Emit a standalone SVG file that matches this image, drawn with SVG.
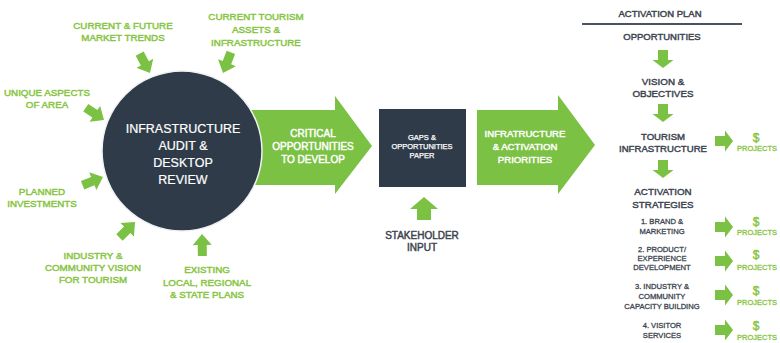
<svg xmlns="http://www.w3.org/2000/svg" width="780" height="343" viewBox="0 0 780 343">
<style>
.g{fill:#7bc143}
.dk{fill:#2f3b48}
.t{font-family:"Liberation Sans",Arial,sans-serif;font-weight:normal;text-anchor:middle;stroke-width:0.45;stroke-linejoin:round}
.gt{fill:#86c540;stroke:#86c540}
.wt{fill:#ffffff;stroke:#ffffff}
.kt{fill:#3d4550;stroke:#3d4550}
</style>
<defs>
<polygon id="sa" points="-22,-4.5 -11,-4.5 -11,-9.5 0,0 -11,9.5 -11,4.5 -22,4.5" class="g"/>
<polygon id="ra" points="-18,-5 -8,-5 -8,-10.5 0,0 -8,10.5 -8,5 -18,5" class="g"/>
</defs>
<rect width="780" height="343" fill="#ffffff"/>

<g id="connectors">
<use href="#sa" transform="translate(150,73) rotate(62)"/>
<use href="#sa" transform="translate(223,73) rotate(111)"/>
<use href="#sa" transform="translate(104,120) rotate(34)"/>
<use href="#sa" transform="translate(103,177) rotate(-22)"/>
<use href="#sa" transform="translate(135,222) rotate(-45)"/>
<use href="#sa" transform="translate(202,234) rotate(-91)"/>
<polygon class="g" points="417,220 417,209 410,209 424,197 438,209 431,209 431,220"/>
<use href="#ra" transform="translate(663,68) rotate(90)"/>
<use href="#ra" transform="translate(663,122) rotate(90)"/>
<use href="#ra" transform="translate(663,178) rotate(90)"/>
<use href="#ra" transform="translate(733,141)"/>
<use href="#ra" transform="translate(733,227)"/>
<use href="#ra" transform="translate(733,261)"/>
<use href="#ra" transform="translate(733,295)"/>
<use href="#ra" transform="translate(733,330)"/>
</g>

<g id="critical">
<polygon class="g" points="240,110 335,110 335,96 372,146 335,194 335,185 240,185"/>
<text class="t wt" font-size="10"><tspan x="313" y="137">CRITICAL</tspan><tspan x="313" y="150">OPPORTUNITIES</tspan><tspan x="313" y="163">TO DEVELOP</tspan></text>
</g>

<g id="audit">
<circle cx="182" cy="151" r="80" class="dk" stroke="#eef2f4" stroke-width="1.5"/>
<text class="t wt" font-size="12.5" style="stroke-width:0.2"><tspan x="183" y="133">INFRASTRUCTURE</tspan><tspan x="183" y="150">AUDIT &amp;</tspan><tspan x="183" y="167">DESKTOP</tspan><tspan x="183" y="184">REVIEW</tspan></text>
</g>

<g id="labels-left">
<text class="t gt" font-size="9.8"><tspan x="123" y="29">CURRENT &amp; FUTURE</tspan><tspan x="123" y="41">MARKET TRENDS</tspan></text>
<text class="t gt" font-size="9.8"><tspan x="256" y="20">CURRENT TOURISM</tspan><tspan x="256" y="33">ASSETS &amp;</tspan><tspan x="256" y="46">INFRASTRUCTURE</tspan></text>
<text class="t gt" font-size="9.8"><tspan x="47" y="96">UNIQUE ASPECTS</tspan><tspan x="47" y="108">OF AREA</tspan></text>
<text class="t gt" font-size="9.8"><tspan x="42" y="195">PLANNED</tspan><tspan x="42" y="207">INVESTMENTS</tspan></text>
<text class="t gt" font-size="9.8"><tspan x="93" y="259">INDUSTRY &amp;</tspan><tspan x="93" y="271">COMMUNITY VISION</tspan><tspan x="93" y="283">FOR TOURISM</tspan></text>
<text class="t gt" font-size="9.8"><tspan x="207" y="273">EXISTING</tspan><tspan x="207" y="286">LOCAL, REGIONAL</tspan><tspan x="207" y="298">&amp; STATE PLANS</tspan></text>
</g>

<g id="gaps">
<rect x="379" y="109" width="87" height="78" class="dk"/>
<text class="t wt" font-size="7.5" style="stroke-width:0.25"><tspan x="422" y="140">GAPS &amp;</tspan><tspan x="422" y="149">OPPORTUNITIES</tspan><tspan x="422" y="158">PAPER</tspan></text>
</g>

<g id="stakeholder">
<text class="t kt" font-size="10"><tspan x="422" y="239">STAKEHOLDER</tspan><tspan x="422" y="251">INPUT</tspan></text>
</g>

<g id="priorities">
<polygon class="g" points="477,110 558,110 558,95 595,145 558,194 558,185 477,185"/>
<text class="t wt" font-size="9.6"><tspan x="525" y="137">INFRATRUCTURE</tspan><tspan x="525" y="150">&amp; ACTIVATION</tspan><tspan x="525" y="163">PRIORITIES</tspan></text>
</g>

<g id="activation-plan">
<text class="t kt" font-size="9.5"><tspan x="660" y="17">ACTIVATION PLAN</tspan></text>
<line x1="582" y1="24" x2="742" y2="24" stroke="#4a5460" stroke-width="1.8"/>
</g>
<g id="opportunities"><text class="t kt" font-size="9.5"><tspan x="662" y="40">OPPORTUNITIES</tspan></text></g>
<g id="vision"><text class="t kt" font-size="9.8"><tspan x="663" y="85">VISION &amp;</tspan><tspan x="663" y="97">OBJECTIVES</tspan></text></g>
<g id="tourism-infra"><text class="t kt" font-size="9.6"><tspan x="663" y="140">TOURISM</tspan><tspan x="663" y="152">INFRASTRUCTURE</tspan></text></g>
<g id="activation-strategies"><text class="t kt" font-size="9.8"><tspan x="663" y="195">ACTIVATION</tspan><tspan x="663" y="208">STRATEGIES</tspan></text></g>
<g id="s1"><text class="t kt" font-size="7.6" style="stroke-width:0.3"><tspan x="662" y="224">1. BRAND &amp;</tspan><tspan x="662" y="234">MARKETING</tspan></text></g>
<g id="s2"><text class="t kt" font-size="7.6" style="stroke-width:0.3"><tspan x="662" y="252">2. PRODUCT/</tspan><tspan x="662" y="261">EXPERIENCE</tspan><tspan x="662" y="270">DEVELOPMENT</tspan></text></g>
<g id="s3"><text class="t kt" font-size="7.6" style="stroke-width:0.3"><tspan x="662" y="289">3. INDUSTRY &amp;</tspan><tspan x="662" y="299">COMMUNITY</tspan><tspan x="662" y="309">CAPACITY BUILDING</tspan></text></g>
<g id="s4"><text class="t kt" font-size="7.6" style="stroke-width:0.3"><tspan x="662" y="328">4. VISITOR</tspan><tspan x="662" y="338">SERVICES</tspan></text></g>

<g id="projects">
<text class="t gt" font-size="12"><tspan x="756" y="142">$</tspan></text><text class="t gt" font-size="7.5" style="stroke-width:0.3"><tspan x="757" y="151">PROJECTS</tspan></text>
<text class="t gt" font-size="12"><tspan x="756" y="226">$</tspan></text><text class="t gt" font-size="7.5" style="stroke-width:0.3"><tspan x="757" y="235">PROJECTS</tspan></text>
<text class="t gt" font-size="12"><tspan x="756" y="259">$</tspan></text><text class="t gt" font-size="7.5" style="stroke-width:0.3"><tspan x="757" y="270">PROJECTS</tspan></text>
<text class="t gt" font-size="12"><tspan x="756" y="295">$</tspan></text><text class="t gt" font-size="7.5" style="stroke-width:0.3"><tspan x="757" y="305">PROJECTS</tspan></text>
<text class="t gt" font-size="12"><tspan x="756" y="330">$</tspan></text><text class="t gt" font-size="7.5" style="stroke-width:0.3"><tspan x="757" y="340">PROJECTS</tspan></text>
</g>
</svg>
